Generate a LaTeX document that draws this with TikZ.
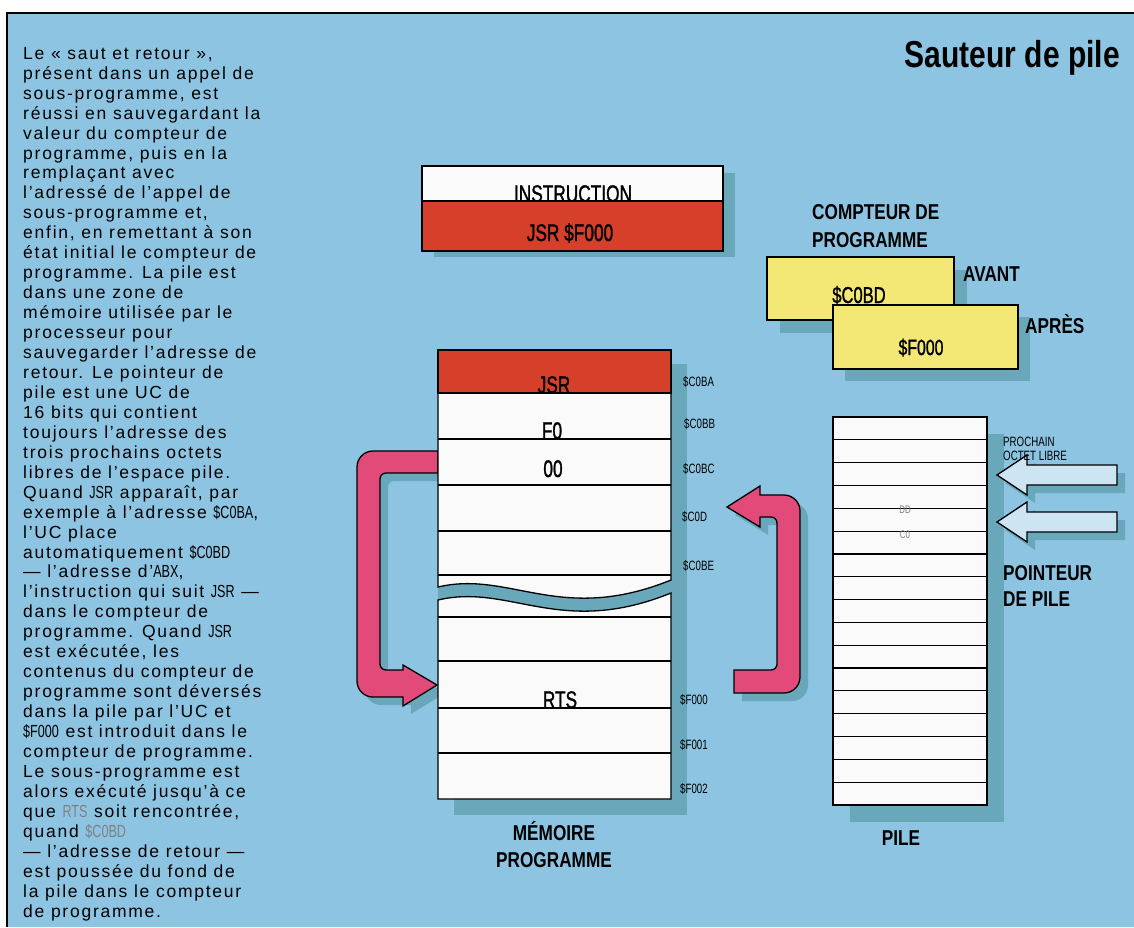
\documentclass[tikz,border=0pt]{standalone}
\usepackage{fontspec}
\setmainfont{Liberation Sans}
\newfontfamily\bodyfont[LetterSpace=10]{Liberation Sans}
\newfontfamily\condfont[FakeStretch=0.8]{Liberation Sans}
\newfontfamily\narrowfont[FakeStretch=0.72]{Liberation Sans}
\newfontfamily\cellfont[FakeStretch=0.72, FakeBold=1.2]{Liberation Sans}
\usepackage{xcolor}
\usepackage{tikz}

\definecolor{skyblue}{RGB}{140,196,226}
\definecolor{dropteal}{RGB}{104,168,186}
\definecolor{opred}{RGB}{214,64,42}
\definecolor{pcyellow}{RGB}{243,232,118}
\definecolor{jumppink}{RGB}{226,74,122}
\definecolor{paleblue}{RGB}{205,228,242}
\definecolor{cellwhite}{RGB}{250,250,250}

\newcommand{\cw}[1]{{\narrowfont #1}}

\begin{document}
\begin{tikzpicture}[x=1pt, y=-1pt,
  outline/.style={draw=black, line width=1.3pt},
  rowline/.style={black, line width=1.2pt},
  shadowed/.style={preaction={fill=dropteal, draw=none, transform canvas={shift={#1}}}},
  heading/.style={font=\condfont\bfseries\fontsize{21.5}{26}\selectfont, inner sep=0, anchor=base west},
  celltext/.style={font=\cellfont\fontsize{24}{26}\selectfont, inner sep=0, anchor=base},
  addr/.style={font=\narrowfont\fontsize{13.5}{15}\selectfont, inner sep=0, anchor=base west},
  jumparrow/.style={outline, fill=jumppink, shadowed={(8,8)}},
  ptrarrow/.style={outline, fill=paleblue, shadowed={(8,8)}}
]
\useasboundingbox (0,0) rectangle (1134,927);
\fill[white] (0,0) rectangle (1134,927);
\fill[skyblue] (7,13) rectangle (1134,927);
\draw[line width=1.5pt] (7,927) -- (7,13) -- (1134,13);

\node[font=\condfont\bfseries\fontsize{37.5}{40}\selectfont, inner sep=0, anchor=base east]
  (title) at (1120,67) {Sauteur de pile};

\node[font=\bodyfont\fontsize{17.5}{19.95}\selectfont, inner sep=0, anchor=north west, align=left]
  (story) at (23,47) {Le « saut et retour »,\\
présent dans un appel de\\
sous-programme, est\\
réussi en sauvegardant la\\
valeur du compteur de\\
programme, puis en la\\
remplaçant avec\\
l’adressé de l’appel de\\
sous-programme et,\\
enfin, en remettant à son\\
état initial le compteur de\\
programme. La pile est\\
dans une zone de\\
mémoire utilisée par le\\
processeur pour\\
sauvegarder l’adresse de\\
retour. Le pointeur de\\
pile est une UC de\\
16 bits qui contient\\
toujours l’adresse des\\
trois prochains octets\\
libres de l’espace pile.\\
Quand \cw{JSR} apparaît, par\\
exemple à l’adresse \cw{\$C0BA},\\
l’UC place\\
automatiquement \cw{\$C0BD}\\
— l’adresse d’\cw{ABX},\\
l’instruction qui suit \cw{JSR} —\\
dans le compteur de\\
programme. Quand \cw{JSR}\\
est exécutée, les\\
contenus du compteur de\\
programme sont déversés\\
dans la pile par l’UC et\\
\cw{\$F000} est introduit dans le\\
compteur de programme.\\
Le sous-programme est\\
alors exécuté jusqu’à ce\\
que \textcolor{gray}{\cw{RTS}} soit rencontrée,\\
quand \textcolor{gray}{\cw{\$C0BD}}\\
— l’adresse de retour —\\
est poussée du fond de\\
la pile dans le compteur\\
de programme.};

% instruction
\fill[dropteal] (434,173) rectangle (735,257);
\filldraw[outline, fill=cellwhite] (422,166) rectangle (723,201);
\node[celltext] (instrhead) at (573,202) {INSTRUCTION};
\filldraw[outline, fill=opred] (422,201) rectangle (723,251);
\node[celltext] (instrop) at (570,241) {JSR \$F000};

% compteur de programme
\node[heading] (pctitle) at (812,219) {COMPTEUR DE};
\node[heading] (pctitleb) at (812,247) {PROGRAMME};
\filldraw[outline, fill=pcyellow, shadowed={(13,13)}] (767,257) rectangle (954,320);
\node[celltext, font=\cellfont\fontsize{23}{25}\selectfont] (pcbefore) at (859,303) {\$C0BD};
\filldraw[outline, fill=pcyellow, shadowed={(12,12)}] (833,305) rectangle (1018,369);
\node[celltext, font=\cellfont\fontsize{22}{25}\selectfont] (pcafter) at (921,355) {\$F000};
\node[heading] (avant) at (963,281) {AVANT};
\node[heading] (apres) at (1025,333) {APRÈS};

% sauts
\filldraw[jumparrow] (438,451) [rounded corners=16] -- (357,451) -- (357,697) [sharp corners]
  -- (403,697) -- (403,706) -- (437,685) -- (403,665) -- (403,670) [rounded corners=6]
  -- (380,670) -- (380,473) [sharp corners] -- (438,473) -- cycle;
\filldraw[jumparrow] (727,507) -- (760,486) -- (760,495) [rounded corners=16]
  -- (800,495) -- (800,693) [sharp corners] -- (734,693) -- (734,670) [rounded corners=6]
  -- (777,670) -- (777,517) [sharp corners] -- (760,517) -- (760,527) -- cycle;

% memoire programme
\fill[dropteal] (454,364) rectangle (687,815);
\fill[dropteal] (438,587) .. controls (510,570) and (560,625) .. (671,580)
  -- (671,593) .. controls (560,638) and (510,583) .. (438,600) -- cycle;
\filldraw[outline, fill=cellwhite] (438,350) -- (671,350) -- (671,580)
  .. controls (560,625) and (510,570) .. (438,587) -- cycle;
\filldraw[outline, fill=cellwhite] (438,600) .. controls (510,583) and (560,638) .. (671,593)
  -- (671,799) -- (438,799) -- cycle;
\filldraw[outline, fill=opred] (438,350) rectangle (671,393);
\foreach \yy in {439,485,531,575,617,661,708,753}
  \draw[rowline] (438,\yy) -- (671,\yy);
\node[celltext] (jsr) at (554,393) {JSR};
\node[celltext] (hi) at (552,439) {F0};
\node[celltext] (lo) at (553,477) {00};
\node[celltext] (rts) at (560,708) {RTS};
\node[addr] (a1) at (683,386) {\$C0BA};
\node[addr] (a2) at (684,428) {\$C0BB};
\node[addr] (a3) at (683,473) {\$C0BC};
\node[addr] (a4) at (682,521) {\$C0D};
\node[addr] (a5) at (683,570) {\$C0BE};
\node[addr] (a6) at (680,704) {\$F000};
\node[addr] (a7) at (680,749) {\$F001};
\node[addr] (a8) at (680,793) {\$F002};
\node[heading, anchor=base] (memtitle) at (554,840) {MÉMOIRE};
\node[heading, anchor=base] (memtitleb) at (554,867) {PROGRAMME};

% pile
\fill[dropteal] (850,434) rectangle (1004,822);
\filldraw[outline, fill=cellwhite] (833,417) rectangle (987,805);
\foreach \k in {1,...,16}
  \draw[rowline] (833,{417+\k*22.82}) -- (987,{417+\k*22.82});
\node[font=\narrowfont\fontsize{11}{12}\selectfont, text=gray, inner sep=0] (dd) at (905,510) {DD};
\node[font=\narrowfont\fontsize{11}{12}\selectfont, text=gray, inner sep=0] (czero) at (905,535) {C0};
\node[heading, anchor=base] (piletitle) at (901,845) {PILE};

% pointeur de pile
\foreach \yy in {475,522}
  \filldraw[ptrarrow] (997,\yy) -- (1027,{\yy-20}) -- (1027,{\yy-10}) -- (1117,{\yy-10})
    -- (1117,{\yy+10}) -- (1027,{\yy+10}) -- (1027,{\yy+20}) -- cycle;
\node[addr] (next) at (1003,446) {PROCHAIN};
\node[addr] (nextb) at (1003,460) {OCTET LIBRE};
\node[heading] (sptitle) at (1003,580) {POINTEUR};
\node[heading] (sptitleb) at (1003,606) {DE PILE};
\end{tikzpicture}
\end{document}
